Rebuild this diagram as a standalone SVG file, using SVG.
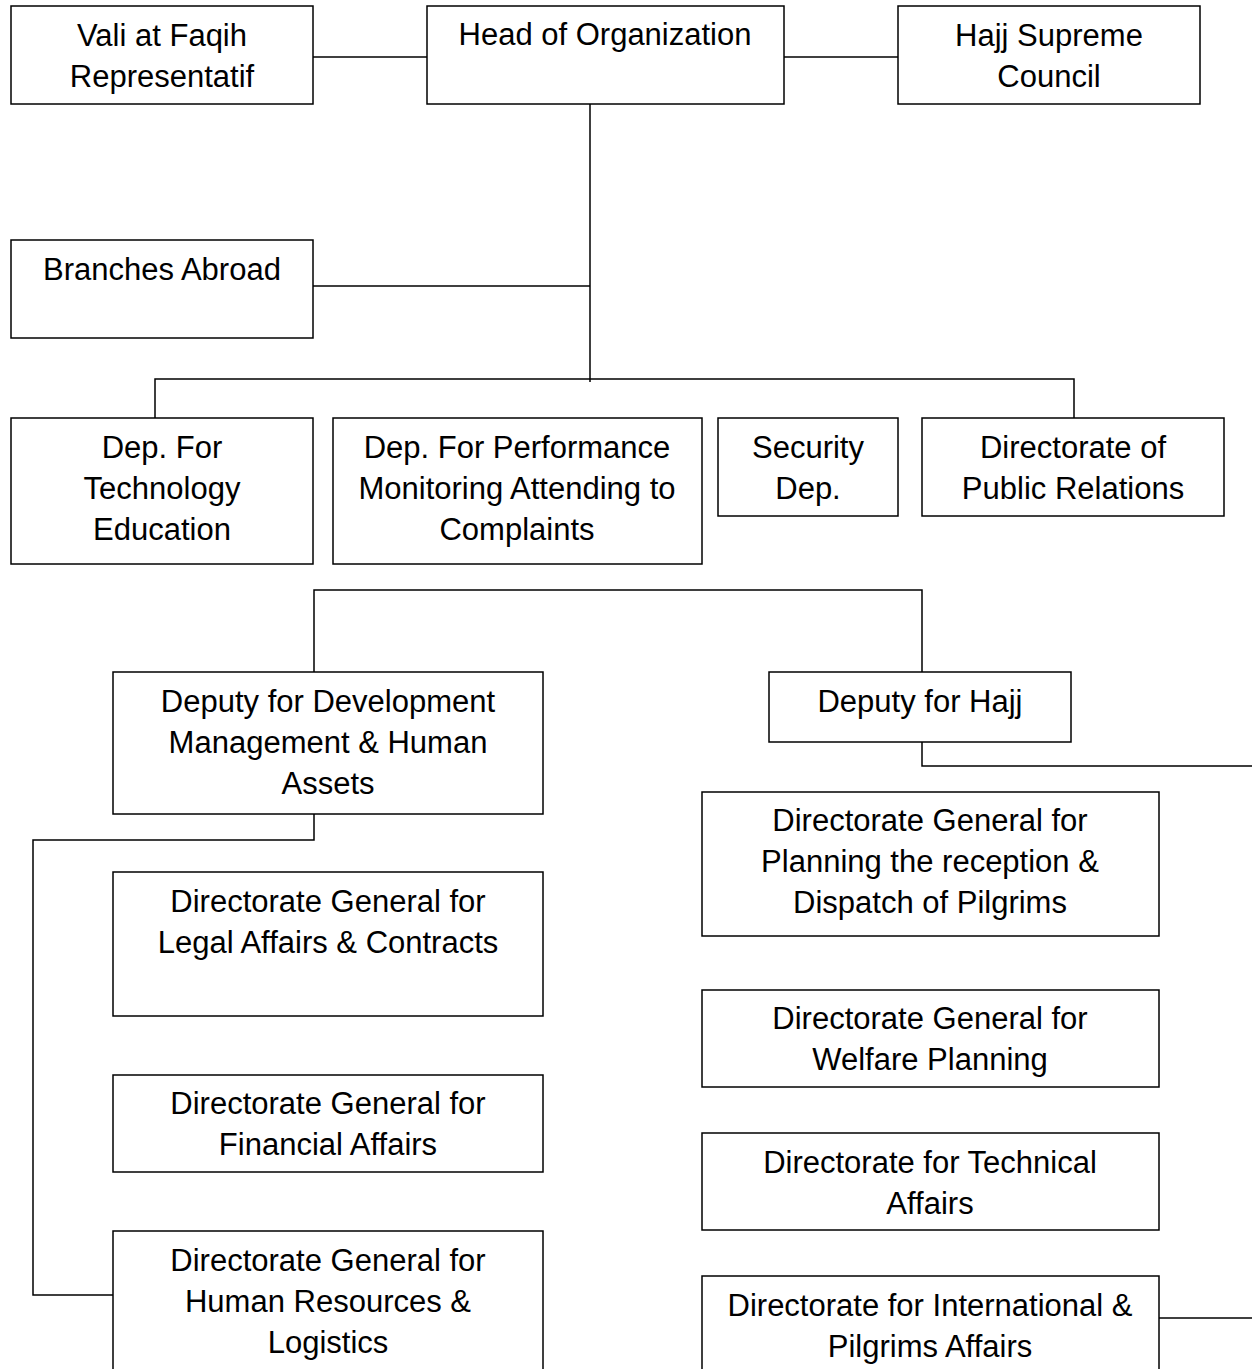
<svg xmlns="http://www.w3.org/2000/svg" width="1252" height="1369" viewBox="0 0 1252 1369">
  <style>
    .box { fill: #ffffff; stroke: #000000; stroke-width: 1.5; }
    .wire { fill: none; stroke: #000000; stroke-width: 1.5; }
    text { font-family: "Liberation Sans", Arial, sans-serif; font-size: 31px; fill: #000000; text-anchor: middle; }
  </style>
  <rect width="1252" height="1369" fill="#ffffff"/>

  <g id="connectors">
    <line class="wire" x1="313" y1="57" x2="427" y2="57"/>
    <line class="wire" x1="784" y1="57" x2="898" y2="57"/>
    <line class="wire" x1="590" y1="104" x2="590" y2="382"/>
    <line class="wire" x1="313" y1="286" x2="590" y2="286"/>
    <polyline class="wire" points="155,418 155,379 1074,379 1074,418"/>
    <polyline class="wire" points="314,672 314,590 922,590 922,672"/>
    <polyline class="wire" points="922,742 922,766 1252,766"/>
    <polyline class="wire" points="314,814 314,840 33,840 33,1295 113,1295"/>
    <line class="wire" x1="1159" y1="1318" x2="1252" y2="1318"/>
  </g>

  <g id="vali">
    <rect class="box" x="11" y="6" width="302" height="98"/>
    <text x="162" y="46">Vali at Faqih</text>
    <text x="162" y="87">Representatif</text>
  </g>
  <g id="head">
    <rect class="box" x="427" y="6" width="357" height="98"/>
    <text x="605" y="45">Head of Organization</text>
  </g>
  <g id="hajj-council">
    <rect class="box" x="898" y="6" width="302" height="98"/>
    <text x="1049" y="46">Hajj Supreme</text>
    <text x="1049" y="87">Council</text>
  </g>
  <g id="branches">
    <rect class="box" x="11" y="240" width="302" height="98"/>
    <text x="162" y="280">Branches Abroad</text>
  </g>
  <g id="dep-tech">
    <rect class="box" x="11" y="418" width="302" height="146"/>
    <text x="162" y="458">Dep. For</text>
    <text x="162" y="499">Technology</text>
    <text x="162" y="540">Education</text>
  </g>
  <g id="dep-perf">
    <rect class="box" x="333" y="418" width="369" height="146"/>
    <text x="517" y="458">Dep. For Performance</text>
    <text x="517" y="499">Monitoring Attending to</text>
    <text x="517" y="540">Complaints</text>
  </g>
  <g id="security">
    <rect class="box" x="718" y="418" width="180" height="98"/>
    <text x="808" y="458">Security</text>
    <text x="808" y="499">Dep.</text>
  </g>
  <g id="public-relations">
    <rect class="box" x="922" y="418" width="302" height="98"/>
    <text x="1073" y="458">Directorate of</text>
    <text x="1073" y="499">Public Relations</text>
  </g>
  <g id="deputy-dev">
    <rect class="box" x="113" y="672" width="430" height="142"/>
    <text x="328" y="712">Deputy for Development</text>
    <text x="328" y="753">Management &amp; Human</text>
    <text x="328" y="794">Assets</text>
  </g>
  <g id="deputy-hajj">
    <rect class="box" x="769" y="672" width="302" height="70"/>
    <text x="920" y="712">Deputy for Hajj</text>
  </g>
  <g id="dg-legal">
    <rect class="box" x="113" y="872" width="430" height="144"/>
    <text x="328" y="912">Directorate General for</text>
    <text x="328" y="953">Legal Affairs &amp; Contracts</text>
  </g>
  <g id="dg-financial">
    <rect class="box" x="113" y="1075" width="430" height="97"/>
    <text x="328" y="1114">Directorate General for</text>
    <text x="328" y="1155">Financial Affairs</text>
  </g>
  <g id="dg-hr">
    <rect class="box" x="113" y="1231" width="430" height="160"/>
    <text x="328" y="1271">Directorate General for</text>
    <text x="328" y="1312">Human Resources &amp;</text>
    <text x="328" y="1353">Logistics</text>
  </g>
  <g id="dg-planning">
    <rect class="box" x="702" y="792" width="457" height="144"/>
    <text x="930" y="831">Directorate General for</text>
    <text x="930" y="872">Planning the reception &amp;</text>
    <text x="930" y="913">Dispatch of Pilgrims</text>
  </g>
  <g id="dg-welfare">
    <rect class="box" x="702" y="990" width="457" height="97"/>
    <text x="930" y="1029">Directorate General for</text>
    <text x="930" y="1070">Welfare Planning</text>
  </g>
  <g id="dir-technical">
    <rect class="box" x="702" y="1133" width="457" height="97"/>
    <text x="930" y="1173">Directorate for Technical</text>
    <text x="930" y="1214">Affairs</text>
  </g>
  <g id="dir-international">
    <rect class="box" x="702" y="1276" width="457" height="120"/>
    <text x="930" y="1316">Directorate for International &amp;</text>
    <text x="930" y="1357">Pilgrims Affairs</text>
  </g>
</svg>
